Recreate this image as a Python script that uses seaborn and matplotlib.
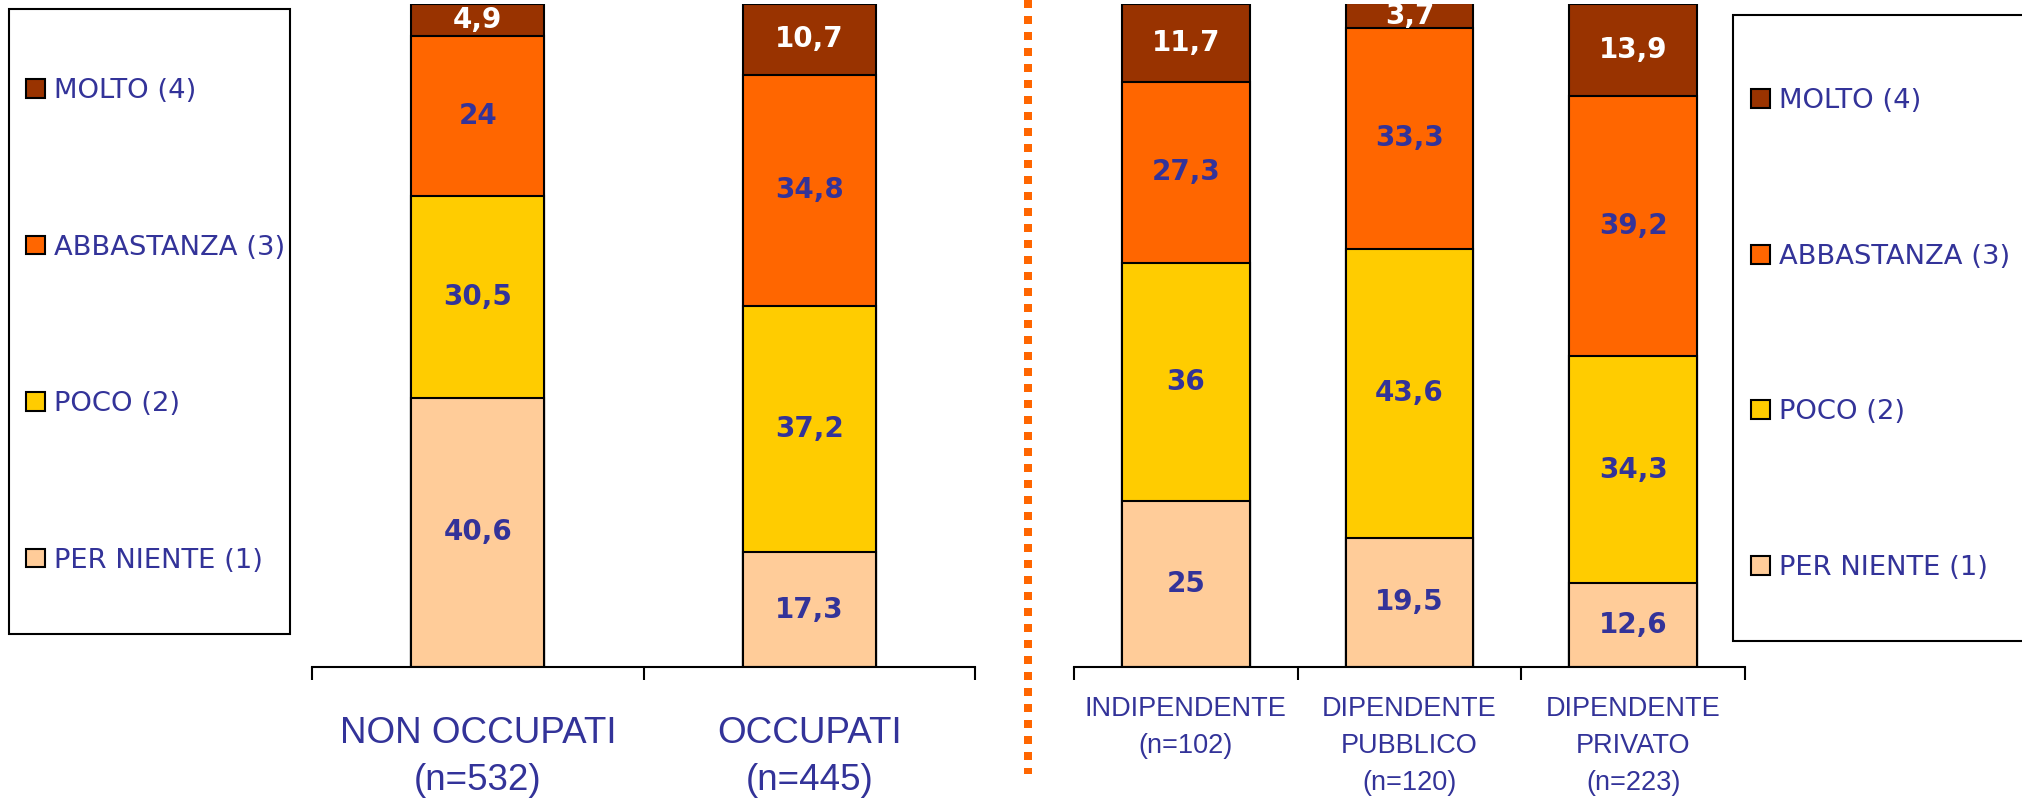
import matplotlib
matplotlib.use("Agg")

import matplotlib.pyplot as plt
import numpy as np
import pandas as pd
import seaborn as sns
from matplotlib.lines import Line2D
from matplotlib.patches import Patch, Rectangle

# ---- data -------------------------------------------------------------
levels = ["PER NIENTE (1)", "POCO (2)", "ABBASTANZA (3)", "MOLTO (4)"]
level_colors = ["#FFCC99", "#FFCC00", "#FF6600", "#993300"]

groups_left = ["NON OCCUPATI\n(n=532)", "OCCUPATI\n(n=445)"]
per_niente_left = [40.6, 17.3]
poco_left = [30.5, 37.2]
abbastanza_left = [24, 34.8]
molto_left = [4.9, 10.7]

groups_right = ["INDIPENDENTE\n(n=102)", "DIPENDENTE\nPUBBLICO\n(n=120)",
                "DIPENDENTE\nPRIVATO\n(n=223)"]
per_niente_right = [25, 19.5, 12.6]
poco_right = [36, 43.6, 34.3]
abbastanza_right = [27.3, 33.3, 39.2]
molto_right = [11.7, 3.7, 13.9]

NAVY = "#333399"
NARROW = ["Liberation Sans", "DejaVu Sans"]

sns.set_style("white")
plt.rcParams["font.family"] = ["DejaVu Sans"]


def fmt(v):
    return f"{v:g}".replace(".", ",")


def stacked(ax, groups, series, bar_width, label_size, tick_pad, spacing):
    df = pd.DataFrame({"gruppo": groups})
    for name, vals in zip(levels, series):
        df[name] = vals
    cum = df[levels].cumsum(axis=1)
    # draw the cumulative totals from the tallest down so they read as stacks
    for name, col in reversed(list(zip(levels, level_colors))):
        sns.barplot(data=pd.DataFrame({"gruppo": groups, "y": cum[name]}),
                    x="gruppo", y="y", order=groups, color=col, saturation=1,
                    width=bar_width, edgecolor="black", linewidth=1.5, ax=ax)
    # segment values
    for i in range(len(groups)):
        for j, name in enumerate(levels):
            v = df[name][i]
            mid = cum[name][i] - v / 2
            ax.text(i, mid, fmt(v), ha="center", va="center", fontsize=20,
                    fontweight="bold", color="white" if j == 3 else NAVY)

    n = len(groups)
    ax.set_xlim(-0.5, n - 0.5)
    ax.set_ylim(0, 100)
    ax.set_xlabel("")
    ax.set_ylabel("")
    ax.set_yticks([])
    ax.set_xticks(range(n))
    ax.set_xticklabels(groups, family=NARROW, fontsize=label_size, color=NAVY,
                       multialignment="center", linespacing=spacing)
    ax.set_xticks(np.arange(n + 1) - 0.5, minor=True)
    ax.tick_params(axis="x", which="major", length=0, pad=tick_pad)
    ax.tick_params(axis="x", which="minor", length=9, width=1.5,
                   direction="out", color="black", bottom=True)
    for side in ["left", "right", "top"]:
        ax.spines[side].set_visible(False)
    ax.spines["bottom"].set_linewidth(1.5)
    ax.spines["bottom"].set_color("black")
    ax.set_facecolor("none")


fig = plt.figure(figsize=(20.22, 8.02), dpi=100)
W, H = 2022, 802

ax_l = fig.add_axes([312 / W, (H - 667) / H, 663 / W, 663 / H])
stacked(ax_l, groups_left,
        [per_niente_left, poco_left, abbastanza_left, molto_left],
        0.4, 26.5, 35, 1.45)

ax_r = fig.add_axes([1074 / W, (H - 667) / H, 671 / W, 663 / H])
stacked(ax_r, groups_right,
        [per_niente_right, poco_right, abbastanza_right, molto_right],
        0.57, 19.5, 21, 1.55)

# dotted separator
fig.add_artist(Line2D([1028 / W, 1028 / W], [1.0, 28 / H],
                      transform=fig.transFigure, color="#FF6600",
                      linewidth=5.76, linestyle=(0, (1, 1)),
                      dash_capstyle="butt"))

# legends (boxes drawn separately, entries via fig.legend)
handles = [Patch(facecolor=c, edgecolor="black", linewidth=1.5)
           for c in reversed(level_colors)]
labels = list(reversed(levels))


def legend_box(x0, y0, x1, y1, hx, htop, spacing):
    fig.add_artist(Rectangle((x0 / W, (H - y1) / H), (x1 - x0) / W,
                             (y1 - y0) / H, transform=fig.transFigure,
                             facecolor="white", edgecolor="black",
                             linewidth=1.5, zorder=0))
    fig.legend(handles, labels, loc="upper left",
               bbox_to_anchor=(hx / W, (H - htop) / H), frameon=False,
               borderpad=0, borderaxespad=0, handlelength=0.68,
               handleheight=0.68, handletextpad=0.35, labelspacing=spacing,
               prop={"size": 19.7}, labelcolor=NAVY)


legend_box(9, 9, 290, 634, 26, 78, 4.77)
legend_box(1733, 15, 2040, 641, 1751, 88, 4.74)

fig.savefig("out.png", dpi=100, facecolor="white")
